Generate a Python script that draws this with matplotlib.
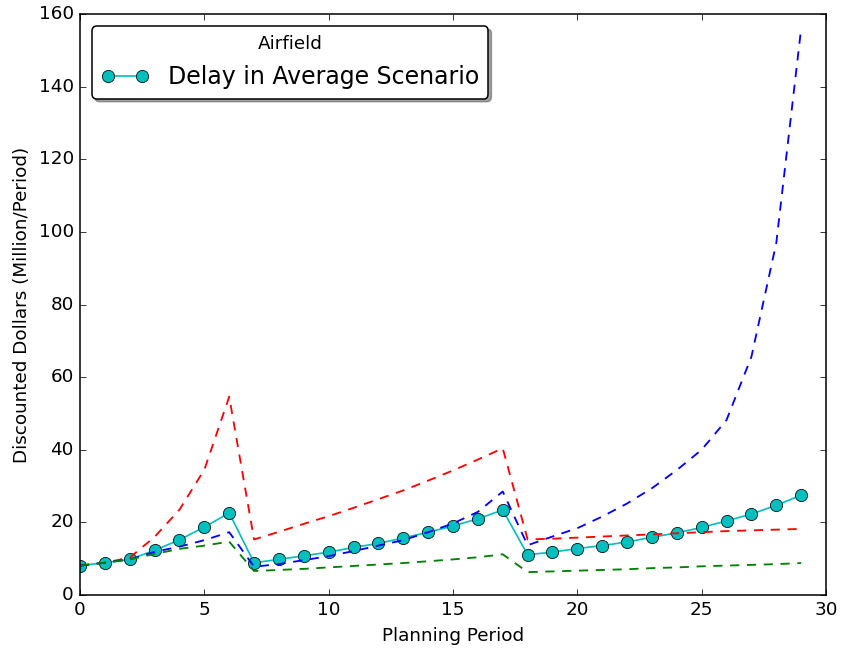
import matplotlib
matplotlib.use("Agg")
import matplotlib.pyplot as plt

plt.style.use("classic")

periods = list(range(30))

# Average-scenario delay cost (markers)
delay_avg = [8.1, 8.9, 9.8, 12.3, 15.2, 18.7, 22.6,
             8.9, 9.8, 10.8, 11.8, 13.1, 14.2, 15.7, 17.3, 19.0, 21.0, 23.4,
             11.1, 11.8, 12.8, 13.6, 14.6, 15.9, 17.1, 18.6, 20.4, 22.3, 24.7, 27.5]

# High-demand scenario (red dashed)
delay_high = [8.1, 8.9, 10.3, 16.0, 23.5, 34.5, 54.6,
              15.3, 17.4, 19.6, 21.7, 24.0, 26.4, 28.8, 31.5, 34.3, 37.3, 40.4,
              15.3, 15.5, 15.8, 16.1, 16.4, 16.7, 17.0, 17.3, 17.6, 17.8, 18.0, 18.2]

# Growth scenario (blue dashed)
delay_growth = [8.1, 8.9, 9.8, 11.9, 13.3, 15.1, 17.3,
                7.8, 8.5, 9.6, 10.7, 12.1, 13.6, 15.1, 17.3, 19.7, 22.9, 28.5,
                13.7, 16.1, 18.4, 21.6, 25.2, 29.4, 34.4, 40.0, 48.2, 65.6, 96.9, 156.0]

# Low-demand scenario (green dashed)
delay_low = [8.1, 8.9, 9.8, 11.3, 12.7, 13.6, 14.7,
             6.6, 6.9, 7.2, 7.6, 8.0, 8.4, 8.8, 9.3, 9.8, 10.4, 11.2,
             6.3, 6.5, 6.7, 6.9, 7.1, 7.4, 7.6, 7.9, 8.1, 8.3, 8.5, 8.8]

x_ticks = [0, 5, 10, 15, 20, 25, 30]
y_ticks = [0, 20, 40, 60, 80, 100, 120, 140, 160]

fig = plt.figure(figsize=(842 / 110, 651 / 110), dpi=110, facecolor="white")
ax = fig.add_axes([80 / 842, 1 - 595 / 651, (826 - 80) / 842, (595 - 14) / 651])

ax.plot(periods, delay_avg, "c-", marker="o", markersize=8, linewidth=1.1,
        markeredgecolor="black", label="Delay in Average Scenario")
ax.plot(periods, delay_high, "r--", linewidth=1.2, dashes=(6, 5))
ax.plot(periods, delay_growth, "b--", linewidth=1.2, dashes=(6, 5))
ax.plot(periods, delay_low, "g--", linewidth=1.2, dashes=(6, 5))

ax.set_xlim(0, 30)
ax.set_ylim(0, 160)
ax.set_xticks(x_ticks)
ax.set_yticks(y_ticks)
ax.tick_params(labelsize=12)
ax.set_xlabel("Planning Period", fontsize=12)
ax.set_ylabel("Discounted Dollars (Million/Period)", fontsize=12)

leg = ax.legend(loc="upper left", title="Airfield", fontsize=15.5,
                shadow=True, fancybox=True, numpoints=2)
leg.get_title().set_fontsize(12)

fig.savefig("out.png", dpi=110, facecolor="white")
